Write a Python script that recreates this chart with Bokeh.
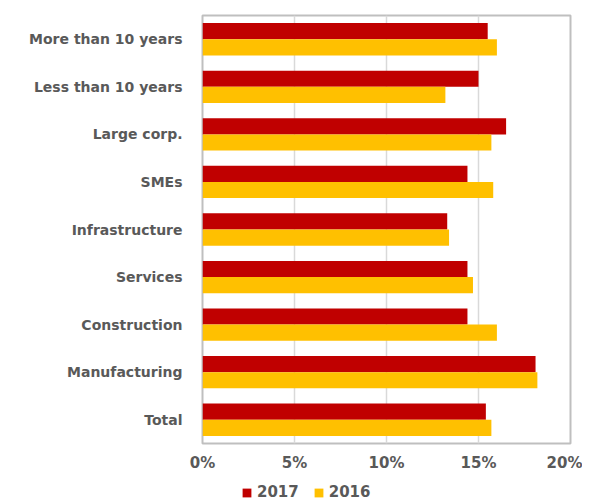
import bokeh.layouts
import bokeh.models
import bokeh.plotting
import bokeh.transform
from bokeh.embed import file_html
from bokeh.resources import INLINE

categories = ["More than 10 years", "Less than 10 years", "Large corp.", "SMEs",
              "Infrastructure", "Services", "Construction", "Manufacturing", "Total"]
share_2017 = [15.5, 15.0, 16.5, 14.4, 13.3, 14.4, 14.4, 18.1, 15.4]
share_2016 = [16.0, 13.2, 15.7, 15.8, 13.4, 14.7, 16.0, 18.2, 15.7]
ticks = [0, 5, 10, 15, 20]
years = ["2017", "2016"]
colors = ["#C00000", "#FFC000"]

source = bokeh.models.ColumnDataSource(dict(cat=categories, y2017=share_2017, y2016=share_2016))

text_color = "#595959"
font = "DejaVu Sans"

p = bokeh.plotting.figure(
    width=582,
    height=474,
    min_border_left=202,
    min_border_right=12,
    min_border_top=15,
    min_border_bottom=31,
    y_range=bokeh.models.FactorRange(factors=categories[::-1]),
    x_range=(0, 20),
    output_backend="svg",
    toolbar_location=None,
)

bar_h = 0.34
p.hbar(y=bokeh.transform.dodge("cat", bar_h / 2, range=p.y_range), right="y2017", left=0,
       height=bar_h, source=source, fill_color=colors[0], line_color=None)
p.hbar(y=bokeh.transform.dodge("cat", -bar_h / 2, range=p.y_range), right="y2016", left=0,
       height=bar_h, source=source, fill_color=colors[1], line_color=None)

p.outline_line_color = "#BFBFBF"
p.outline_line_width = 2
p.xgrid.grid_line_color = "#D9D9D9"
p.xgrid.grid_line_width = 1.5
p.ygrid.grid_line_color = None

p.xaxis.ticker = bokeh.models.FixedTicker(ticks=ticks)
p.xaxis.formatter = bokeh.models.PrintfTickFormatter(format="%d%%")
for ax in (p.xaxis[0], p.yaxis[0]):
    ax.axis_line_color = None
    ax.major_tick_line_color = None
    ax.minor_tick_line_color = None
    ax.major_tick_out = 0
    ax.major_tick_in = 0
    ax.minor_tick_out = 0
    ax.axis_label_standoff = 0
    ax.major_label_text_font = font
    ax.major_label_text_font_style = "bold"
    ax.major_label_text_color = text_color
p.xaxis.major_label_text_font_size = "15px"
p.xaxis.major_label_standoff = 10
p.yaxis.major_label_text_font_size = "14px"
p.yaxis.major_label_standoff = 20

# legend in its own strip below the chart (its frame lines up with the chart's)
leg = bokeh.plotting.figure(
    width=582,
    height=29,
    min_border=0,
    x_range=(0, 1),
    y_range=(0, 1),
    output_backend="svg",
    toolbar_location=None,
)
leg.axis.visible = False
leg.grid.grid_line_color = None
leg.outline_line_color = None

items = []
for year, color in zip(years, colors):
    # zero-length bar, only there to give the legend its swatch
    r = leg.hbar(y=[0], right=[0], left=0, height=0.5, fill_color=color, line_color=None)
    items.append((year, [r]))

legend = bokeh.models.Legend(
    items=items,
    orientation="horizontal",
    location=(39, 2),
    label_text_font=font,
    label_text_font_style="bold",
    label_text_font_size="15px",
    label_text_color=text_color,
    glyph_width=11,
    glyph_height=11,
    label_standoff=5,
    spacing=14,
    padding=0,
    margin=0,
    border_line_color=None,
    background_fill_alpha=0,
)
leg.add_layout(legend, "center")

fig = bokeh.layouts.column(p, leg, spacing=0)

open("out.html", "w").write(file_html(fig, INLINE))
